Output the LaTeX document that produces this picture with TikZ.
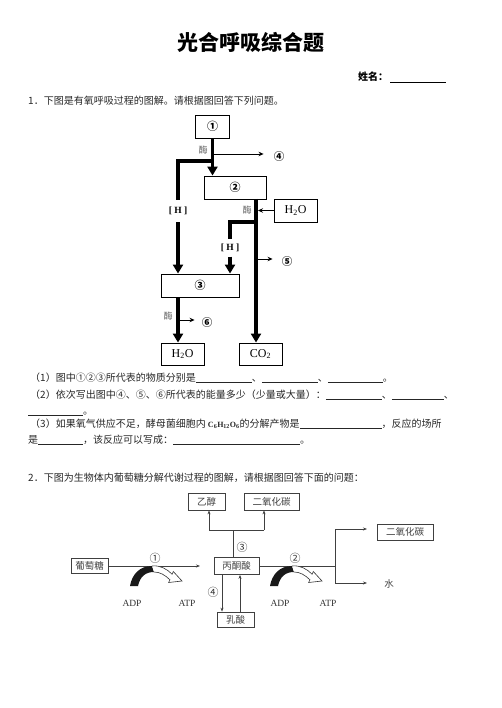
\documentclass[tikz,border=0pt]{standalone}
\usepackage{fontspec}
\setmainfont{Liberation Serif}
\newfontfamily\cjk{Noto Sans CJK SC}
\newfontfamily\tnr{Liberation Serif}
\usetikzlibrary{arrows.meta}
\newcommand\blk[1]{\rule[-1.2pt]{#1pt}{0.6pt}}
\begin{document}
\begin{tikzpicture}[x=1pt,y=-1pt,
  txt/.style={inner sep=0pt, anchor=base west, text=black!85, font=\cjk\fontsize{10}{12}\selectfont},
  boxa/.style={draw, line width=0.9pt, inner sep=0pt},
  lab/.style={inner sep=0pt, font=\cjk\bfseries\fontsize{10.5}{12}\selectfont},
  enz/.style={inner sep=0pt, text=black!60, font=\cjk\fontsize{9}{10}\selectfont},
  hlab/.style={inner sep=0pt, minimum height=#1, font=\tnr\bfseries\fontsize{9.5}{10}\selectfont},
  fat/.style={line width=3.2pt},
  fathead/.style={-{Triangle[length=9pt,width=10pt]}},
  tn/.style={line width=0.7pt, -{Stealth[length=5pt,width=4.5pt]}},
  boxb/.style={draw=black!75, line width=0.7pt, inner sep=0pt, text=black!75, font=\cjk\fontsize{9.5}{11}\selectfont},
  lnb/.style={draw=black!75, line width=0.65pt},
  arb/.style={lnb, -{Stealth[length=4pt,width=3pt]}},
  numb/.style={inner sep=0pt, text=black!80, font=\cjk\fontsize{11}{12}\selectfont},
  atp/.style={inner sep=0pt, text=black!80, font=\tnr\fontsize{9.5}{11}\selectfont}
]
\useasboundingbox (0,0) rectangle (502,708);

% ---------- header ----------
\node[inner sep=0pt, font=\cjk\bfseries\fontsize{21}{24}\selectfont] (title) at (250.5,42) {光合呼吸综合题};
\node[inner sep=0pt, anchor=base west, font=\cjk\bfseries\fontsize{10}{12}\selectfont] (name) at (358,81) {姓名：};
\draw[line width=0.7pt] (390,82) -- (446,82);
\node[txt] (q1) at (28,105) {1．下图是有氧呼吸过程的图解。请根据图回答下列问题。};

% ---------- diagram 1 ----------
\node[boxa, minimum width=34pt, minimum height=23pt, font=\cjk\bfseries\fontsize{11}{12}\selectfont] (b1) at (212.5,126.5) {①};
\node[boxa, minimum width=62pt, minimum height=23pt, font=\cjk\bfseries\fontsize{11}{12}\selectfont] (b2) at (235,187.5) {②};
\node[boxa, minimum width=78pt, minimum height=23pt, font=\cjk\bfseries\fontsize{11}{12}\selectfont] (b3) at (200,285.5) {③};
\node[boxa, minimum width=43pt, minimum height=23pt, font=\tnr\fontsize{12}{14}\selectfont] (hw1) at (295.5,210.5) {H\textsubscript{2}O};
\node[boxa, minimum width=43pt, minimum height=22pt, font=\tnr\fontsize{12}{14}\selectfont] (hw2) at (182.5,354) {H\textsubscript{2}O};
\node[boxa, minimum width=43pt, minimum height=22pt, font=\tnr\fontsize{12}{14}\selectfont] (co2) at (260.5,354) {CO\textsubscript{2}};

\node[enz] (e1) at (203,150) {酶};
\node[enz] (e2) at (247,210) {酶};
\node[enz] (e3) at (168,316) {酶};

\node[hlab=22pt] (H1) at (178,211) {[ H ]};
\node[hlab=17pt] (H2) at (230,248) {[ H ]};

\node[lab] (n4) at (279,157) {④};
\node[lab] (n5) at (287,262) {⑤};
\node[lab] (n6) at (207,323) {⑥};

\coordinate (j4) at (212.5,154);
\coordinate (jH) at (212.5,161);
\coordinate (c2) at (256,199);
\coordinate (jD) at (256,222);
\coordinate (jW) at (258,210.5);
\coordinate (j5) at (256,259);
\coordinate (c3) at (178,297);
\coordinate (j6) at (178,320);

\draw[fat,fathead] (b1.south) -- (b1.south |- b2.north);
\draw[tn] (j4) -- ([xshift=-10pt]n4.west |- j4);
\draw[fat] (jH) -| (H1.north);
\draw[fat,fathead] (H1.south) -- (H1.south |- b3.north);
\draw[fat,fathead] (c2) -- (c2 |- co2.north);
\draw[tn] (hw1.west) -- (jW);
\draw[fat] (jD) -| (H2.north);
\draw[fat,fathead] (H2.south) -- (H2.south |- b3.north);
\draw[tn] (j5) -- ([xshift=-9pt]n5.west |- j5);
\draw[fat,fathead] (c3) -- (c3 |- hw2.north);
\draw[tn] (j6) -- ([xshift=-7pt]n6.west |- j6);

% ---------- questions ----------
\node[txt] (l1) at (30,381) {（1）图中①②③所代表的物质分别是\blk{56}、\blk{56}、\blk{55}。};
\node[txt] (l2) at (30,398) {（2）依次写出图中④、⑤、⑥所代表的能量多少（少量或大量）：\blk{56}、\blk{52}、};
\node[txt] (l2b) at (28,414) {\blk{55}。};
\node[txt] (l3) at (30,427) {（3）如果氧气供应不足，酵母菌细胞内 {\tnr\bfseries\fontsize{8}{9}\selectfont C\textsubscript{6}H\textsubscript{12}O\textsubscript{6}}的分解产物是\blk{82}，反应的场所};
\node[txt] (l3b) at (28,443) {是\blk{45}，该反应可以写成：\blk{127}。};

\node[txt] (q2) at (28,481) {2．下图为生物体内葡萄糖分解代谢过程的图解，请根据图回答下面的问题：};

% ---------- diagram 2 ----------
\node[boxb, minimum width=37pt, minimum height=15pt] (glu) at (89.5,566) {葡萄糖};
\node[boxb, minimum width=45pt, minimum height=17pt] (pyr) at (236.5,566) {丙酮酸};
\node[boxb, minimum width=37pt, minimum height=15pt] (lac) at (235.5,619.5) {乳酸};
\node[boxb, minimum width=37pt, minimum height=17pt] (eth) at (206.5,501.5) {乙醇};
\node[boxb, minimum width=55pt, minimum height=17pt] (co2a) at (271.5,501.5) {二氧化碳};
\node[boxb, minimum width=56pt, minimum height=16pt] (co2b) at (405,532) {二氧化碳};
\node[inner sep=0pt, text=black!75, font=\cjk\fontsize{9.5}{11}\selectfont] (water) at (389,584) {水};

\node[numb] (m1) at (155,558) {①};
\node[numb] (m2) at (295,558) {②};
\node[numb] (m3) at (242,547) {③};
\node[numb] (m4) at (213,592) {④};

\node[atp] (adp1) at (132,603) {ADP};
\node[atp] (atp1) at (187,603) {ATP};
\node[atp] (adp2) at (280,603) {ADP};
\node[atp] (atp2) at (328,603) {ATP};

\coordinate (gEnd) at (200,566);
\coordinate (pT) at (233,557);
\coordinate (jE) at (233,530);
\coordinate (eL) at (209,530);
\coordinate (eR) at (264,530);
\coordinate (dA) at (222,574);
\coordinate (uA) at (240,612);
\coordinate (jR) at (335,566);
\coordinate (rT) at (335,529);
\coordinate (rB) at (335,583);
\coordinate (rTe) at (367,529);
\coordinate (rBe) at (367,583);

\draw[arb] (glu.east) -- (gEnd);
\draw[lnb] (pT) -- (jE);
\draw[lnb] (eL) -- (eR);
\draw[arb] (eL) -- (eL |- eth.south);
\draw[arb] (eR) -- (eR |- co2a.south);
\draw[arb] (dA) -- (dA |- lac.north);
\draw[arb] (uA) -- (uA |- pyr.south);
\draw[lnb] (pyr.east) -- (jR);
\draw[lnb] (rT) -- (rB);
\draw[arb] (rT) -- (rTe);
\draw[arb] (rB) -- (rBe);

% ADP -> ATP curved arrows
\foreach \sx in {130,270}{
  \begin{scope}[shift={(\sx,586)}]
    \fill[black!90] (0,0) .. controls (2,-12) and (10,-20) .. (22,-20) -- (24,-14) .. controls (15,-14) and (10,-9) .. (8,0) -- cycle;
    \filldraw[fill=white, draw=black!80, line width=0.6pt, line join=miter]
      (22,-20) .. controls (30,-21) and (37,-17) .. (42.1,-11.8) -- (43.3,-14.5) -- (52,-5) -- (38.7,-3.5) -- (39.9,-6.2) .. controls (35,-11) and (30,-14) .. (24,-14);
  \end{scope}
}
\end{tikzpicture}
\end{document}
